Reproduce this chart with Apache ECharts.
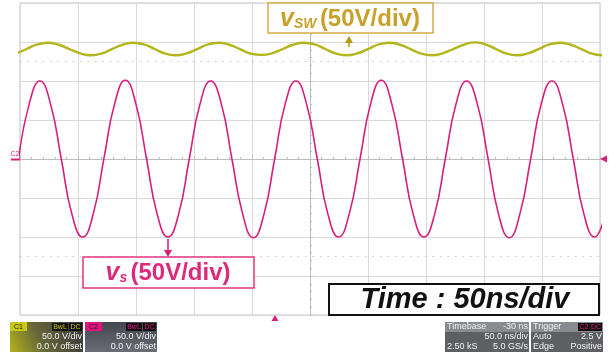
<!DOCTYPE html>
<html>
<head>
<meta charset="utf-8">
<script src="https://cdn.jsdelivr.net/npm/echarts@6/dist/echarts.min.js"></script>
<style>
  html, body { margin: 0; padding: 0; background: #fff; }
  #chart { width: 610px; height: 354px; }
</style>
</head>
<body>
<div id="chart"></div>
<script>
// time in ns (50 ns/div), voltage in V (50 V/div)
const timeRange = [-250, 250]
const voltRange = [-200, 200]

// v_s (magenta) at 1/8-period steps
const vsTime = [-251.2, -242.0, -232.8, -223.6, -214.4, -205.2, -196.0, -186.8, -177.6, -168.4,
  -159.2, -150.0, -140.9, -131.7, -122.5, -113.3, -104.1, -94.9, -85.7, -76.5,
  -67.3, -58.1, -48.9, -39.7, -30.5, -21.3, -12.1, -2.9, 6.3, 15.5,
  24.7, 33.9, 43.1, 52.3, 61.4, 70.6, 79.8, 89.0, 98.2, 107.4,
  116.6, 125.8, 135.0, 144.2, 153.4, 162.6, 171.8, 181.0, 190.2, 199.4,
  208.6, 217.8, 227.0, 236.2, 245.3, 254.5]
const vsVolt = [0, 71, 100, 70, 0, -71, -100, -70, 1, 71,
  101, 70, 0, -71, -100, -71, 0, 70, 100, 71,
  0, -70, -101, -71, 0, 71, 100, 70, 0, -71,
  -100, -70, 0, 71, 101, 70, 0, -71, -100, -71,
  0, 70, 100, 71, 1, -71, -101, -70, 0, 71,
  100, 70, 0, -71, -100, -71]

// v_sw (yellow), small ripple on top of ~141 V
const vswTime = [-253.5, -244.3, -235.1, -225.9, -216.7, -207.5, -198.3, -189.1, -179.9, -170.7,
  -161.5, -152.3, -143.1, -133.9, -124.8, -115.6, -106.4, -97.2, -88.0, -78.8,
  -69.6, -60.4, -51.2, -42.0, -32.8, -23.6, -14.4, -5.2, 4.0, 13.2,
  22.4, 31.6, 40.8, 50.0, 59.2, 68.4, 77.6, 86.7, 95.9, 105.1,
  114.3, 123.5, 132.7, 141.9, 151.1, 160.3, 169.5, 178.7, 187.9, 197.1,
  206.3, 215.5, 224.7, 233.9, 243.1, 252.3]
const vswVolt = [135, 141, 147, 149, 146.5, 141, 135.5, 133, 135, 141,
  146.5, 149, 147, 141, 135, 133, 135.5, 141, 147, 149,
  146.5, 141, 135, 133.5, 135.5, 141, 146.5, 149, 147, 141,
  135, 133, 135.5, 141, 147, 149, 146.5, 141, 135, 133,
  135.5, 141, 146.5, 149.5, 147, 141, 135, 133, 135.5, 141,
  147, 149, 146.5, 141, 135, 133]

const dottedLevels = [125, -125]

const MAG = '#d81f7b'
const YEL = '#b3b51c'
const GOLD = '#c9a12a'
const FONT = '"Liberation Sans", Arial, sans-serif'

const chart = echarts.init(document.getElementById('chart'))

function panelText(x, y, text, color, align, size) {
  return {
    type: 'text', z: 120, x: x, y: y,
    style: { text: text, fill: color, font: (size || 9) + 'px ' + FONT, align: align || 'left', verticalAlign: 'middle' }
  }
}
function tag(x, y, w, h, bg, text, color) {
  return [
    { type: 'rect', z: 115, shape: { x: x, y: y, width: w, height: h }, style: { fill: bg } },
    panelText(x + w / 2, y + h / 2 + 0.5, text, color, 'center', 7)
  ]
}

const graphics = [
  // v_sw label
  { type: 'rect', z: 100, shape: { x: 268, y: 3, width: 165, height: 30 }, style: { fill: '#fff', stroke: '#d3ab45', lineWidth: 1.5 } },
  { type: 'text', z: 101, x: 350, y: 19,
    style: { text: '{v|v}{s|SW} {t|(50V/div)}', align: 'center', verticalAlign: 'middle',
      rich: {
        v: { font: 'italic bold 25px ' + FONT, fill: GOLD },
        s: { font: 'italic bold 14px ' + FONT, fill: GOLD, padding: [10, 0, 0, 0] },
        t: { font: 'bold 24px ' + FONT, fill: GOLD }
      } } },
  { type: 'line', z: 101, shape: { x1: 349, y1: 47, x2: 349, y2: 41 }, style: { stroke: '#b8950f', lineWidth: 1.5 } },
  { type: 'polygon', z: 101, shape: { points: [[345, 43], [353, 43], [349, 36]] }, style: { fill: '#b8950f' } },

  // v_s label
  { type: 'rect', z: 100, shape: { x: 83, y: 257, width: 171, height: 31 }, style: { fill: '#fff', stroke: '#e2357f', lineWidth: 1.5 } },
  { type: 'text', z: 101, x: 168, y: 273,
    style: { text: '{v|v}{s|s} {t|(50V/div)}', align: 'center', verticalAlign: 'middle',
      rich: {
        v: { font: 'italic bold 25px ' + FONT, fill: '#de2a7a' },
        s: { font: 'italic bold 14px ' + FONT, fill: '#de2a7a', padding: [10, 0, 0, 0] },
        t: { font: 'bold 24px ' + FONT, fill: '#de2a7a' }
      } } },
  { type: 'line', z: 101, shape: { x1: 168, y1: 239, x2: 168, y2: 251 }, style: { stroke: MAG, lineWidth: 1.5 } },
  { type: 'polygon', z: 101, shape: { points: [[164, 250], [172, 250], [168, 257]] }, style: { fill: MAG } },

  // time/div label
  { type: 'rect', z: 100, shape: { x: 329, y: 284, width: 270, height: 31 }, style: { fill: '#fff', stroke: '#111', lineWidth: 2 } },
  { type: 'text', z: 101, x: 465, y: 300,
    style: { text: 'Time : 50ns/div', font: 'italic bold 29px ' + FONT, fill: '#111', align: 'center', verticalAlign: 'middle' } },

  // channel / trigger markers
  { type: 'line', z: 101, shape: { x1: 11, y1: 159.5, x2: 20, y2: 159.5 }, style: { stroke: MAG, lineWidth: 2 } },
  { type: 'text', z: 101, x: 15, y: 154, style: { text: 'C2', font: '7px ' + FONT, fill: MAG, align: 'center', verticalAlign: 'middle' } },
  { type: 'polygon', z: 101, shape: { points: [[600, 159], [607, 155.5], [607, 162.5]] }, style: { fill: MAG } },
  { type: 'polygon', z: 101, shape: { points: [[275, 315], [271.5, 321], [278.5, 321]] }, style: { fill: MAG } },

  // C1 panel
  { type: 'rect', z: 110, shape: { x: 10, y: 322, width: 73, height: 30 },
    style: { fill: new echarts.graphic.LinearGradient(0, 1, 0.9, 0, [
      { offset: 0, color: '#b3b31c' }, { offset: 0.45, color: '#66663a' }, { offset: 1, color: '#3c3c3a' }]) } },
  ...tag(10, 322, 17, 9, '#c8c81a', 'C1', '#222'),
  ...tag(52, 323, 16, 8, '#111', 'BwL', '#c8c81a'),
  ...tag(69, 323, 13, 8, '#111', 'DC', '#c8c81a'),
  panelText(82, 337, '50.0 V/div', '#f2f2f2', 'right'),
  panelText(82, 347, '0.0 V offset', '#f2f2f2', 'right'),

  // C2 panel
  { type: 'rect', z: 110, shape: { x: 85, y: 322, width: 72, height: 30 },
    style: { fill: new echarts.graphic.LinearGradient(0, 0, 0, 1, [
      { offset: 0, color: '#43464f' }, { offset: 1, color: '#6a6d76' }]) } },
  ...tag(85, 322, 17, 9, '#e0157c', 'C2', '#222'),
  ...tag(126, 323, 16, 8, '#111', 'BwL', '#e0157c'),
  ...tag(143, 323, 13, 8, '#111', 'DC', '#e0157c'),
  panelText(156, 337, '50.0 V/div', '#f2f2f2', 'right'),
  panelText(156, 347, '0.0 V offset', '#f2f2f2', 'right'),

  // timebase panel
  { type: 'rect', z: 110, shape: { x: 445, y: 322, width: 84, height: 30 }, style: { fill: '#5e5f63' } },
  { type: 'rect', z: 111, shape: { x: 445, y: 322, width: 84, height: 10 }, style: { fill: '#8a8b8f' } },
  panelText(447, 327, 'Timebase', '#f0f0f0', 'left'),
  panelText(528, 327, '-30 ns', '#f0f0f0', 'right'),
  panelText(528, 337, '50.0 ns/div', '#f0f0f0', 'right'),
  panelText(447, 347, '2.50 kS', '#f0f0f0', 'left'),
  panelText(528, 347, '5.0 GS/s', '#f0f0f0', 'right'),

  // trigger panel
  { type: 'rect', z: 110, shape: { x: 531, y: 322, width: 72, height: 30 }, style: { fill: '#5e5f63' } },
  { type: 'rect', z: 111, shape: { x: 531, y: 322, width: 72, height: 10 }, style: { fill: '#8a8b8f' } },
  panelText(533, 327, 'Trigger', '#f0f0f0', 'left'),
  ...tag(578, 323, 12, 8, '#111', 'C2', '#e0157c'),
  ...tag(590, 323, 12, 8, '#111', 'DC', '#e0157c'),
  panelText(533, 337, 'Auto', '#f0f0f0', 'left'),
  panelText(602, 337, '2.5 V', '#f0f0f0', 'right'),
  panelText(533, 347, 'Edge', '#f0f0f0', 'left'),
  panelText(602, 347, 'Positive', '#f0f0f0', 'right')
]

const option = {
  animation: false,
  backgroundColor: '#fff',
  grid: {
    left: 20, right: 10, top: 3, bottom: 39,
    show: true, borderColor: '#c4c4c4', borderWidth: 1, backgroundColor: '#fff'
  },
  xAxis: {
    type: 'value',
    min: timeRange[0], max: timeRange[1], interval: 50,
    axisLabel: { show: false },
    axisLine: { show: true, onZero: true, lineStyle: { color: '#bdbdbd', width: 1 } },
    axisTick: { show: true, inside: true, length: 3, lineStyle: { color: '#bdbdbd' } },
    minorTick: { show: true, splitNumber: 5, length: 2, lineStyle: { color: '#bdbdbd' } },
    splitLine: { show: true, lineStyle: { color: '#dadada', width: 1 } }
  },
  yAxis: {
    type: 'value',
    min: voltRange[0], max: voltRange[1], interval: 50,
    axisLabel: { show: false },
    axisLine: { show: true, onZero: true, lineStyle: { color: '#bdbdbd', width: 1 } },
    axisTick: { show: true, inside: true, length: 3, lineStyle: { color: '#bdbdbd' } },
    minorTick: { show: true, splitNumber: 5, length: 2, lineStyle: { color: '#bdbdbd' } },
    splitLine: { show: true, lineStyle: { color: '#dadada', width: 1 } }
  },
  series: [
    {
      name: 'vsw',
      type: 'line',
      data: vswTime.map((t, i) => [t, vswVolt[i]]),
      smooth: true,
      showSymbol: false,
      lineStyle: { color: YEL, width: 2.4 },
      markLine: {
        silent: true, symbol: 'none', label: { show: false },
        lineStyle: { color: '#c8c8c8', type: [1.5, 6], width: 1 },
        data: dottedLevels.map(v => ({ yAxis: v }))
      }
    },
    {
      name: 'vs',
      type: 'line',
      data: vsTime.map((t, i) => [t, vsVolt[i]]),
      smooth: true,
      showSymbol: false,
      lineStyle: { color: MAG, width: 1.6 }
    }
  ],
  graphic: graphics
}

chart.setOption(option)
</script>
</body>
</html>
